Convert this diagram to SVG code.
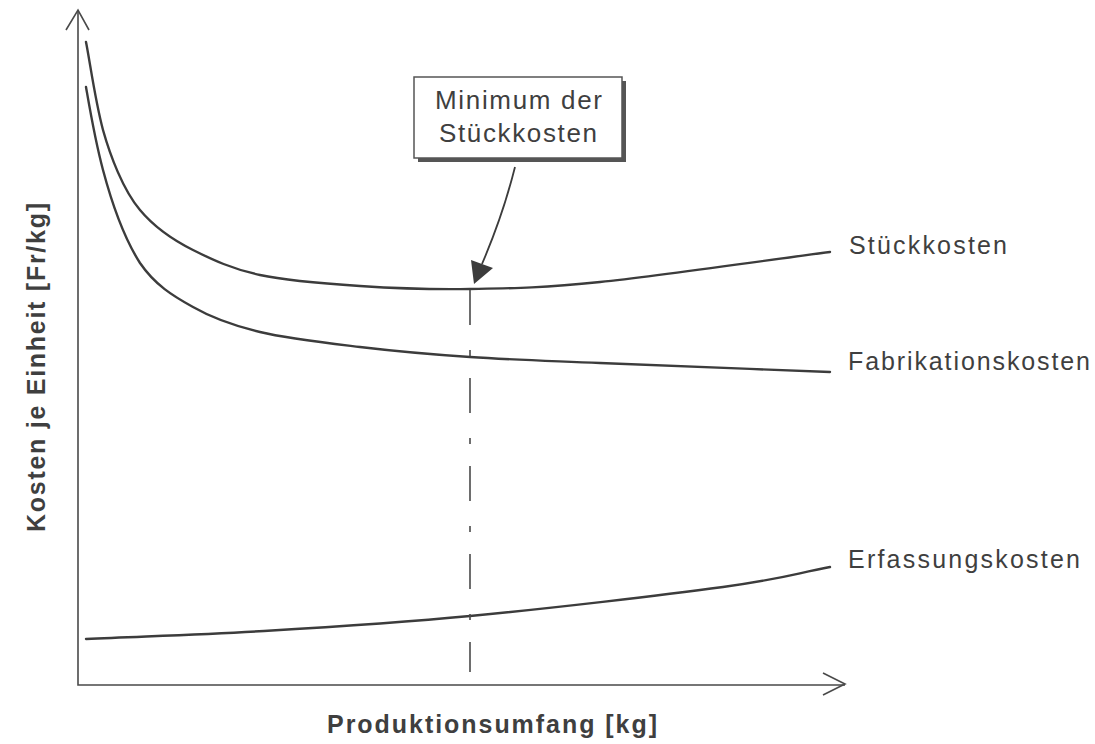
<svg xmlns="http://www.w3.org/2000/svg" width="1095" height="744" viewBox="0 0 1095 744">
<style>
.ax{fill:none;stroke:#4a4a4a;stroke-width:1.6}
.cv{fill:none;stroke:#3c3c3c;stroke-width:2.4;stroke-linecap:round}
.lbl{font-family:"Liberation Sans",Arial,sans-serif;font-size:25px;fill:#3f3f3f}
.box{font-family:"Liberation Sans",Arial,sans-serif;font-size:26px;fill:#3f3f3f}
.axl{font-family:"Liberation Sans",Arial,sans-serif;font-size:25px;font-weight:bold;fill:#3f3f3f}
</style>
<rect width="1095" height="744" fill="#fff"/>
<g id="axes">
<path class="ax" d="M78,10 V685 H845"/>
<path class="ax" d="M66,30 L78,10 L89,30"/>
<path class="ax" d="M823,673 L845,684 L823,695"/>
</g>
<g id="connectors">
<path class="cv" d="M86,42 C90,62 95,100 103,130 C110,155 123,190 140,210 C155,228 173,240 193,250 C213,260 232.2,269 260,275 C287.8,281 325,283.7 360,286 C395,288.3 430,289.7 470,289 C510,288.3 540,288.2 600,282 C660,275.8 753.3,262 830,252"/>
<path class="cv" d="M86,87 C90,110 95,140 103,170 C111,200 124,238 140,263 C155,285 173,296 193,307 C213,318.5 232.2,325.3 260,332 C287.8,338.7 325,342.8 360,347 C395,351.2 430,354.3 470,357 C510,359.7 540,360.5 600,363 C660,365.5 753.3,369 830,372"/>
<path class="cv" d="M86,639 C145.3,636.3 200,634.8 264,631 C328,627.2 393.5,623.3 470,616 C546.5,608.7 663,595.2 723,587 C783,578.8 794.3,573.7 830,567"/>
<path fill="none" stroke="#4a4a4a" stroke-width="1.6" stroke-dasharray="35 25 6 22" d="M470,290 V672"/>
<path fill="none" stroke="#3c3c3c" stroke-width="1.8" d="M515,167 Q503,215 482,264"/>
<polygon points="471,260 493,268 474,284" fill="#3c3c3c"/>
</g>
<g id="box">
<rect x="418" y="81" width="208" height="81" fill="#555"/>
<rect x="414" y="77" width="208" height="81" fill="#fff" stroke="#555" stroke-width="1.5"/>
<text class="box" x="435" y="109" textLength="167" lengthAdjust="spacing">Minimum der</text>
<text class="box" x="439" y="142" textLength="158" lengthAdjust="spacing">Stückkosten</text>
</g>
<g id="labels">
<text class="lbl" x="849" y="254" textLength="158" lengthAdjust="spacing">Stückkosten</text>
<text class="lbl" x="848" y="370" textLength="242" lengthAdjust="spacing">Fabrikationskosten</text>
<text class="lbl" x="848" y="568" textLength="232" lengthAdjust="spacing">Erfassungskosten</text>
<text class="axl" x="327" y="733" textLength="330" lengthAdjust="spacing">Produktionsumfang [kg]</text>
<text class="axl" transform="translate(45,532) rotate(-90)" x="0" y="0" textLength="329" lengthAdjust="spacing">Kosten je Einheit [Fr/kg]</text>
</g>
</svg>
